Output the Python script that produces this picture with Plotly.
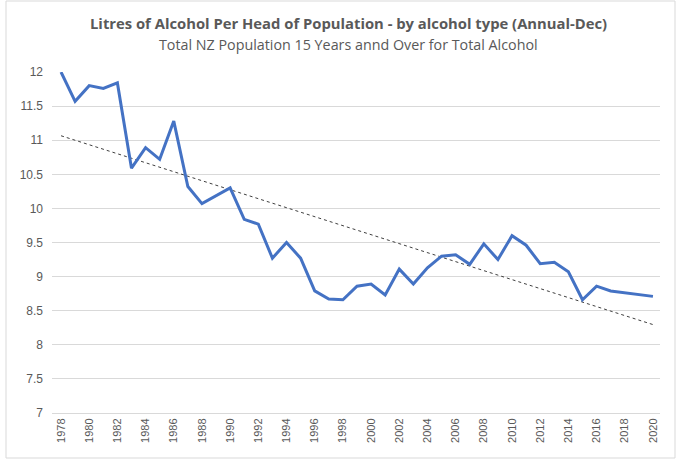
import numpy as np
import plotly.graph_objects as go

years = list(range(1978, 2021))
litres = [12.00, 11.57, 11.80, 11.76, 11.84, 10.59, 10.89, 10.72, 11.28, 10.32,
          10.07, 10.18, 10.30, 9.84, 9.77, 9.27, 9.50, 9.27, 8.79, 8.67,
          8.66, 8.86, 8.89, 8.73, 9.11, 8.89, 9.13, 9.30, 9.32, 9.18,
          9.48, 9.25, 9.60, 9.46, 9.19, 9.21, 9.07, 8.66, 8.86, 8.79,
          8.76, 8.74, 8.71]
tick_years = list(range(1978, 2021, 2))
y_ticks = [7, 7.5, 8, 8.5, 9, 9.5, 10, 10.5, 11, 11.5, 12]

title = "Litres of Alcohol Per Head of Population - by alcohol type (Annual-Dec)"
subtitle = "Total NZ Population 15 Years annd Over for Total Alcohol"

# linear trendline (least squares, as in the spreadsheet trendline)
coef = np.polyfit(years, litres, 1)
trend = np.polyval(coef, years)

fig = go.Figure()
fig.add_trace(go.Scatter(x=years, y=trend, mode="lines",
                         line=dict(color="#404040", width=1, dash="dot"),
                         hoverinfo="skip", showlegend=False))
fig.add_trace(go.Scatter(x=years, y=litres, mode="lines",
                         line=dict(color="#4472C4", width=3),
                         showlegend=False))

PW, PH = 608, 341
font_fam = "Liberation Sans, Arial, sans-serif"
fig.update_layout(
    width=676, height=459,
    margin=dict(l=52, r=16, t=72, b=46),
    paper_bgcolor="white", plot_bgcolor="white",
    font=dict(family=font_fam, color="#595959"),
    xaxis=dict(range=[1977.36, 2020.5], tickmode="array", tickvals=tick_years,
               ticktext=[str(y) for y in tick_years], tickangle=-90,
               tickfont=dict(size=11, color="#595959"),
               showgrid=False, zeroline=False, showline=True,
               linecolor="#d9d9d9", linewidth=1, ticks=""),
    yaxis=dict(range=[7, 12], tickmode="array", tickvals=y_ticks,
               ticktext=[f"{v:g}" for v in y_ticks],
               tickfont=dict(size=12, color="#595959"),
               showgrid=True, gridcolor="#d9d9d9", gridwidth=1,
               zeroline=False, showline=False, ticks="", ticklabelstandoff=8),
    shapes=[dict(type="rect", xref="paper", yref="paper",
                 x0=(6 - 52) / PW, x1=1 + 15 / PW, y0=-45 / PH, y1=1 + 71 / PH,
                 line=dict(color="#d9d9d9", width=1), fillcolor="rgba(0,0,0,0)",
                 layer="below")],
    annotations=[
        dict(text=f"<b>{title}</b>", x=(348 - 52) / PW, y=1 + (72 - 23) / PH,
             xref="paper", yref="paper", showarrow=False,
             font=dict(size=14.8, color="#595959", family="Open Sans, Liberation Sans, sans-serif"),
             xanchor="center", yanchor="middle"),
        dict(text=subtitle, x=(348 - 52) / PW, y=1 + (72 - 44) / PH,
             xref="paper", yref="paper", showarrow=False,
             font=dict(size=14.3, color="#595959", family="Open Sans, Liberation Sans, sans-serif"),
             xanchor="center", yanchor="middle"),
    ],
)

fig.write_html("out.html", config={"displayModeBar": False},
               post_script="document.body.style.margin='0';")
